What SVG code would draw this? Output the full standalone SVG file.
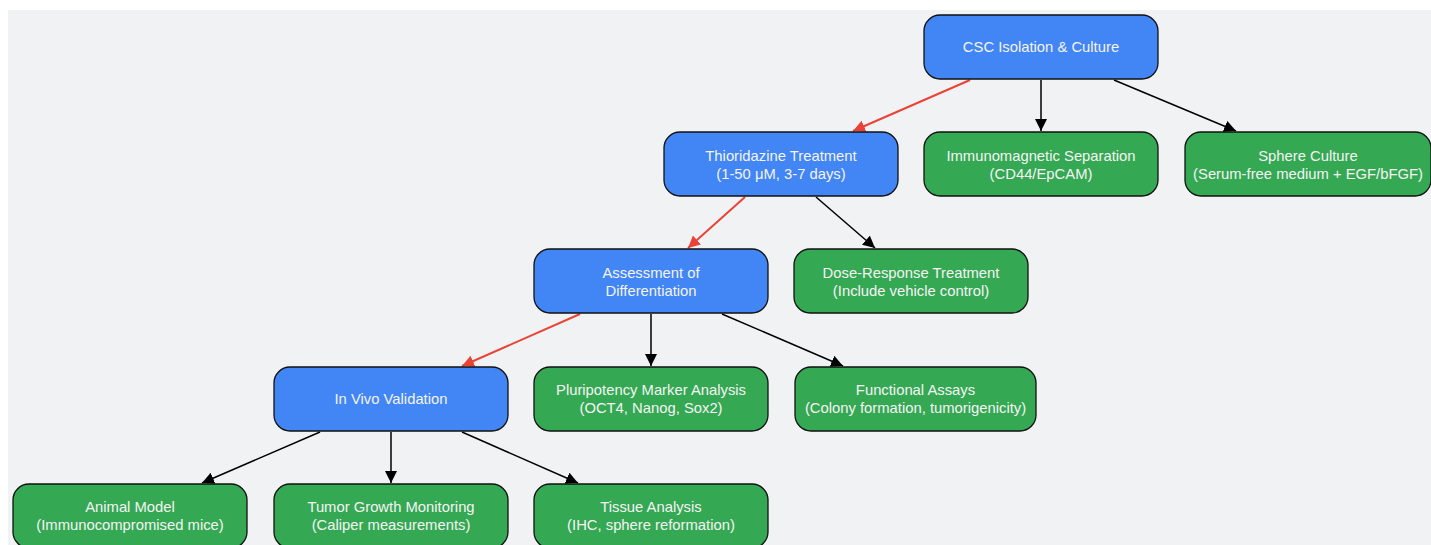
<svg xmlns="http://www.w3.org/2000/svg" width="1431" height="545" viewBox="0 0 1431 545">
<defs>
<marker id="ab" viewBox="0 0 10 10" refX="10" refY="5" markerWidth="12" markerHeight="12" markerUnits="userSpaceOnUse" orient="auto"><path d="M0,0 L10,5 L0,10 z" fill="#000"/></marker>
<marker id="ar" viewBox="0 0 10 10" refX="10" refY="5" markerWidth="12" markerHeight="12" markerUnits="userSpaceOnUse" orient="auto"><path d="M0,0 L10,5 L0,10 z" fill="#ea4335"/></marker>
<style>
.b rect{fill:#4285f4;stroke:#111;stroke-width:1.3}
.g rect{fill:#34a853;stroke:#111;stroke-width:1.3}
text{font-family:"Liberation Sans",Arial,sans-serif;font-size:14.8px;fill:#f4f4f4;text-anchor:middle}
.e{stroke:#000;stroke-width:1.5;fill:none;marker-end:url(#ab)}
.r{stroke:#ea4335;stroke-width:2;fill:none;marker-end:url(#ar)}
</style>
</defs>
<rect x="0" y="0" width="1431" height="545" fill="#ffffff"/>
<rect x="8" y="10" width="1423" height="535" fill="#f1f2f4"/>
<g id="connectors">
<line class="r" x1="970" y1="80" x2="853" y2="131"/>
<line class="e" x1="1041" y1="80" x2="1041" y2="131"/>
<line class="e" x1="1114" y1="80" x2="1236" y2="131"/>
<line class="r" x1="745" y1="197" x2="688" y2="248"/>
<line class="e" x1="816" y1="197" x2="875" y2="248"/>
<line class="r" x1="580" y1="314" x2="462" y2="366"/>
<line class="e" x1="651" y1="314" x2="651" y2="366"/>
<line class="e" x1="722" y1="314" x2="843" y2="366"/>
<line class="e" x1="320" y1="432" x2="202" y2="483"/>
<line class="e" x1="391" y1="432" x2="391" y2="483"/>
<line class="e" x1="462" y1="432" x2="578" y2="483"/>
</g>
<g id="csc" class="b"><rect x="924" y="15" width="234" height="64" rx="16"/><text x="1041" y="52">CSC Isolation &amp; Culture</text></g>
<g id="thio" class="b"><rect x="664" y="132" width="234" height="64" rx="16"/><text x="781" y="161">Thioridazine Treatment</text><text x="781" y="179">(1-50 μM, 3-7 days)</text></g>
<g id="immuno" class="g"><rect x="924" y="132" width="234" height="64" rx="16"/><text x="1041" y="161">Immunomagnetic Separation</text><text x="1041" y="179">(CD44/EpCAM)</text></g>
<g id="sphere" class="g"><rect x="1185" y="132" width="246" height="64" rx="16"/><text x="1308" y="161">Sphere Culture</text><text x="1308" y="179">(Serum-free medium + EGF/bFGF)</text></g>
<g id="assess" class="b"><rect x="534" y="249" width="234" height="64" rx="16"/><text x="651" y="278">Assessment of</text><text x="651" y="296">Differentiation</text></g>
<g id="dose" class="g"><rect x="794" y="249" width="234" height="64" rx="16"/><text x="911" y="278">Dose-Response Treatment</text><text x="911" y="296">(Include vehicle control)</text></g>
<g id="invivo" class="b"><rect x="274" y="367" width="234" height="64" rx="16"/><text x="391" y="404">In Vivo Validation</text></g>
<g id="pluri" class="g"><rect x="534" y="367" width="234" height="64" rx="16"/><text x="651" y="395">Pluripotency Marker Analysis</text><text x="651" y="413">(OCT4, Nanog, Sox2)</text></g>
<g id="func" class="g"><rect x="795" y="367" width="241" height="64" rx="16"/><text x="915.5" y="395">Functional Assays</text><text x="915.5" y="413">(Colony formation, tumorigenicity)</text></g>
<g id="animal" class="g"><rect x="13" y="484" width="234" height="64" rx="16"/><text x="130" y="512">Animal Model</text><text x="130" y="530">(Immunocompromised mice)</text></g>
<g id="tumor" class="g"><rect x="274" y="484" width="234" height="64" rx="16"/><text x="391" y="512">Tumor Growth Monitoring</text><text x="391" y="530">(Caliper measurements)</text></g>
<g id="tissue" class="g"><rect x="534" y="484" width="234" height="64" rx="16"/><text x="651" y="512">Tissue Analysis</text><text x="651" y="530">(IHC, sphere reformation)</text></g>
</svg>
